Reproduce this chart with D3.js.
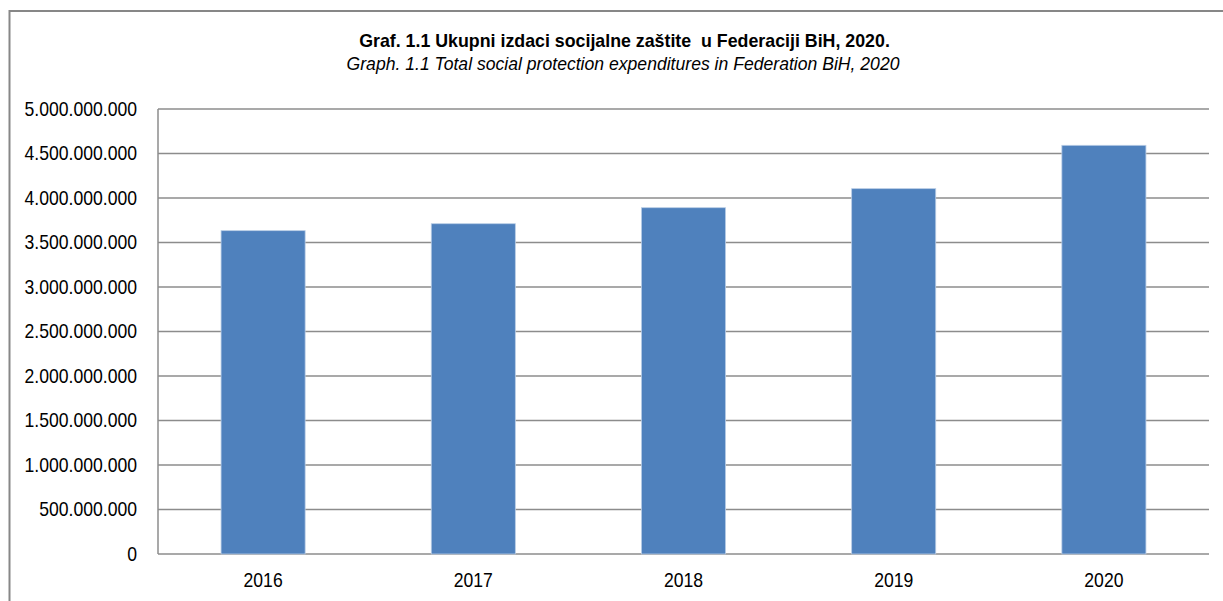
<!DOCTYPE html>
<html>
<head>
<meta charset="utf-8">
<script src="https://cdn.jsdelivr.net/npm/d3@7"></script>
<style>
  html, body { margin: 0; padding: 0; background: #fff; }
</style>
</head>
<body>
<div id="chart"></div>
<script>
// chart data
const years = ["2016", "2017", "2018", "2019", "2020"];
const expenditures = [3633000000, 3711000000, 3891000000, 4105000000, 4592000000];
const yTicks = [0, 500000000, 1000000000, 1500000000, 2000000000, 2500000000,
  3000000000, 3500000000, 4000000000, 4500000000, 5000000000];
const titleBs = "Graf. 1.1 Ukupni izdaci socijalne zaštite  u Federaciji BiH, 2020.";
const titleEn = "Graph. 1.1 Total social protection expenditures in Federation BiH, 2020";

const width = 1223;
const height = 601;
const margin = {top: 109, right: 14, bottom: 47, left: 158};
// no narrow font installed, so axis labels get squeezed horizontally instead
const font = "'Liberation Sans', Arial, sans-serif";
const narrow = 0.88;

const svg = d3.select("#chart")
  .append("svg")
  .attr("width", width)
  .attr("height", height);

// outer frame (only top and left are visible in the picture)
svg.append("path")
  .attr("d", `M9.5,${height} V11 H${width}`)
  .attr("fill", "none")
  .attr("stroke", "#878787")
  .attr("stroke-width", 2);

const xScale = d3.scaleBand()
  .domain(years)
  .range([margin.left, width - margin.right])
  .paddingInner(0.6)
  .paddingOuter(0.3);

const yScale = d3.scaleLinear()
  .domain([0, 5000000000])
  .range([height - margin.bottom, margin.top]);

// thousands separated by dots
const fmt = v => d3.format(",")(v).replace(/,/g, ".");

// gridlines
svg.append("g")
  .selectAll("line")
  .data(yTicks)
  .join("line")
  .attr("x1", margin.left)
  .attr("x2", width - margin.right)
  .attr("y1", d => yScale(d))
  .attr("y2", d => yScale(d))
  .attr("stroke", "#8c8c8c")
  .attr("stroke-width", 1.5);

// left axis line
svg.append("line")
  .attr("x1", margin.left)
  .attr("x2", margin.left)
  .attr("y1", yScale(5000000000))
  .attr("y2", yScale(0))
  .attr("stroke", "#8c8c8c")
  .attr("stroke-width", 1.5);

// bars
svg.append("g")
  .selectAll("rect")
  .data(years)
  .join("rect")
  .attr("x", d => xScale(d))
  .attr("width", xScale.bandwidth())
  .attr("y", (d, i) => yScale(expenditures[i]))
  .attr("height", (d, i) => yScale(0) - yScale(expenditures[i]))
  .attr("fill", "#4f81bd")
  .attr("stroke", "#b9cde6")
  .attr("stroke-width", 0.8);

// y tick labels
const yAxis = svg.append("g")
  .attr("transform", `translate(${margin.left},0)`)
  .call(d3.axisLeft(yScale).tickValues(yTicks).tickFormat(fmt).tickSize(0));
yAxis.select(".domain").remove();
yAxis.selectAll("text")
  .attr("x", -21 / narrow)
  .attr("transform", `scale(${narrow},1)`)
  .style("font-family", font)
  .style("font-size", "20px")
  .attr("fill", "#000");

// x tick labels
const xAxis = svg.append("g")
  .attr("transform", `translate(0,${yScale(0)})`)
  .call(d3.axisBottom(xScale).tickSize(0).tickPadding(19));
xAxis.select(".domain").remove();
xAxis.selectAll("text")
  .attr("transform", `scale(${narrow},1)`)
  .style("font-family", font)
  .style("font-size", "20px")
  .attr("fill", "#000");

// titles
svg.append("text")
  .attr("x", 624.5)
  .attr("y", 47)
  .attr("text-anchor", "middle")
  .style("white-space", "pre")
  .style("font-family", font)
  .style("font-weight", "bold")
  .style("font-size", "17.8px")
  .text(titleBs);

svg.append("text")
  .attr("x", 623)
  .attr("y", 70)
  .attr("text-anchor", "middle")
  .style("font-family", font)
  .style("font-style", "italic")
  .style("font-size", "17.6px")
  .text(titleEn);
</script>
</body>
</html>
